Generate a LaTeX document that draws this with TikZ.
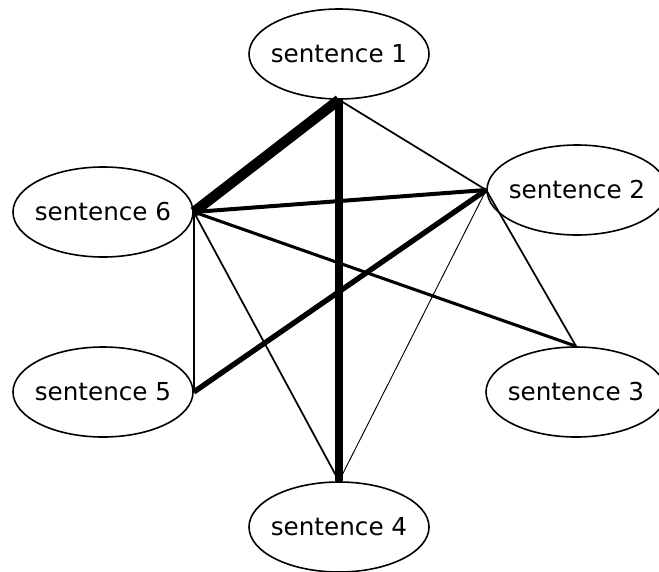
\documentclass[tikz,border=0pt]{standalone}
\usepackage{fontspec}
\setmainfont{DejaVu Sans}
\usetikzlibrary{shapes.geometric}
\tikzset{ s/.style = { ellipse % sentence
        , draw
        , line width = 1.2pt
        , minimum width = 135pt
        , minimum height = 67.5pt
        , inner sep = 0pt
        , font = \fontsize{18.5}{22}\selectfont
        }
        , w/.style = { line width = #1 % edge weight
        }
        }

\begin{document}
\begin{tikzpicture}[x=0.75pt, y=-0.75pt,
        node_style/.style={s},
        edge_style/.style={draw=black, line cap=butt}]
        \useasboundingbox (0,0) rectangle (659,571);

        \node [node_style](n1) at (339,54) {\makebox[0pt]{sentence 1}};
        \node [node_style](n2) at (577,190) {\makebox[0pt]{sentence 2}};
        \node [node_style](n3) at (576,392) {\makebox[0pt]{sentence 3}};
        \node [node_style](n4) at (339,527) {\makebox[0pt]{sentence 4}};
        \node [node_style](n5) at (103,392) {\makebox[0pt]{sentence 5}};
        \node [node_style](n6) at (103,212) {\makebox[0pt]{sentence 6}};

        \draw [edge_style, w=7.8pt] (n1.south) -- (n6.east);
        \draw [edge_style, w=6.5pt] (n1.south) -- (n4.north);
        \draw [edge_style, w=1.3pt] (n1.south) -- (n2.west);
        \draw [edge_style, w=3pt] (n6.east) -- (n2.west);
        \draw [edge_style, w=2.3pt] (n6.east) -- (n3.north);
        \draw [edge_style, w=1.3pt] (n6.east) -- (n5.east);
        \draw [edge_style, w=1.3pt] (n6.east) -- (n4.north);
        \draw [edge_style, w=4pt] (n5.east) -- (n2.west);
        \draw [edge_style, w=1.3pt] (n2.west) -- (n3.north);
        \draw [edge_style, w=0.7pt] (n2.west) -- (n4.north);
\end{tikzpicture}
\end{document}
